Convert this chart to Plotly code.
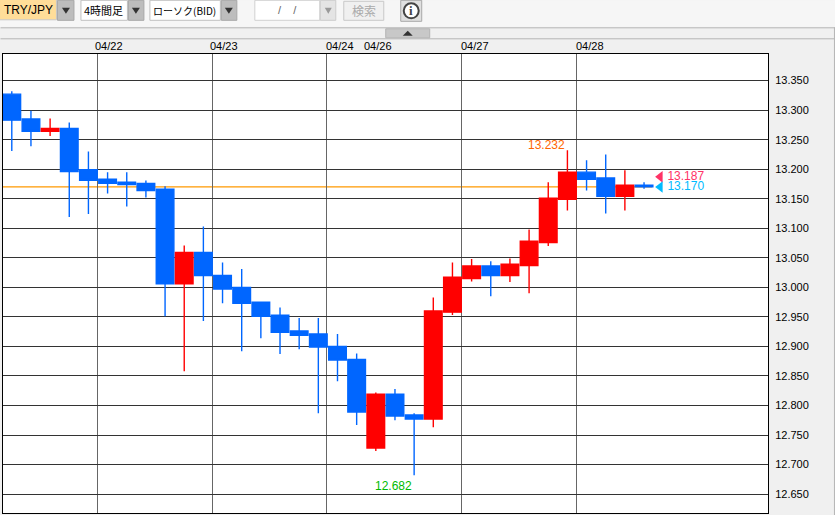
import plotly.graph_objects as go

# ---- data (TRY/JPY 4h, BID) ----
opens = [13.327,13.285,13.264,13.269,13.199,13.183,13.178,13.176,13.166,13.006,13.059,13.020,13.000,12.975,12.953,12.926,12.921,12.900,12.878,12.728,12.819,12.784,12.777,12.958,13.015,13.036,13.020,13.037,13.076,13.149,13.195,13.185,13.154,13.173]
highs = [13.332,13.299,13.286,13.279,13.230,13.195,13.195,13.181,13.171,13.071,13.103,13.042,13.031,12.975,12.966,12.948,12.948,12.921,12.888,12.822,12.828,12.787,12.983,13.042,13.048,13.044,13.049,13.098,13.178,13.232,13.215,13.225,13.198,13.178]
lows = [13.231,13.239,13.256,13.119,13.124,13.159,13.137,13.152,12.951,12.858,12.943,12.973,12.892,12.914,12.887,12.895,12.787,12.841,12.767,12.723,12.775,12.682,12.763,12.953,13.010,12.985,13.009,12.990,13.070,13.130,13.164,13.125,13.130,13.167]
closes = [13.283,13.264,13.269,13.196,13.181,13.176,13.174,13.164,13.006,13.059,13.020,12.997,12.973,12.951,12.924,12.919,12.899,12.877,12.789,12.819,12.782,12.777,12.960,13.017,13.036,13.020,13.039,13.078,13.151,13.195,13.183,13.154,13.173,13.170]
candle_x = list(range(len(opens)))

price_ticks = [12.65,12.70,12.75,12.80,12.85,12.90,12.95,13.00,13.05,13.10,13.15,13.20,13.25,13.30,13.35]
price_labels = ["12.650","12.700","12.750","12.800","12.850","12.900","12.950","13.000","13.050","13.100","13.150","13.200","13.250","13.300","13.350"]
grid_x = [4.45,10.45,16.45,23.45,29.45]
date_labels = ["04/22","04/23","04/24","04/26","04/27","04/28"]
date_x = [4.26,10.26,16.31,18.29,23.35,29.35]

current_bid = 13.170
current_ask = 13.187
max_label = 13.232
min_label = 12.682

# ---- layout geometry ----
W, H = 835, 515
L, R, T, B = 2.5, 768.0, 53.7, 512.7
def px(x): return (x - L) / (R - L)
def py(y): return (B - y) / (B - T)

MONO = "Liberation Sans"
BLUE, RED = "#0066ff", "#ff0000"

fig = go.Figure()
fig.add_trace(go.Candlestick(
    x=candle_x, open=opens, high=highs, low=lows, close=closes,
    increasing=dict(line=dict(color=RED, width=1.4), fillcolor=RED),
    decreasing=dict(line=dict(color=BLUE, width=1.4), fillcolor=BLUE),
    whiskerwidth=0))
fig.add_trace(go.Scatter(x=[33.84, 33.84], y=[current_ask, current_bid], mode="markers+text",
                         marker=dict(symbol="triangle-left", size=10, color=["#ff3366", "#00bbff"]),
                         text=[f"{current_ask:.3f}", f"{current_bid:.3f}"], textposition="middle right",
                         textfont=dict(family=MONO, size=12, color=["#ff3366", "#00bbff"]), hoverinfo="skip"))

shapes, annots = [], []
# current-price line sits under the candles, above the grid
shapes.append(dict(type="line", xref="x", yref="y", x0=-0.46, x1=33.42, y0=current_bid, y1=current_bid,
                   line=dict(color="#ff9900", width=1.3), layer="below"))
# high / low labels
annots.append(dict(xref="x", yref="y", x=29, y=max_label, text=f"{max_label:.3f}", showarrow=False, xanchor="right",
                   yanchor="middle", yshift=5, font=dict(family=MONO, size=12, color="#ff6600")))
annots.append(dict(xref="x", yref="y", x=21, y=min_label, text=f"{min_label:.3f}", showarrow=False, xanchor="right",
                   yanchor="middle", yshift=-11, font=dict(family=MONO, size=12, color="#00bb00")))

def box(x0, y0, x1, y1, fill, line=None, lw=1, layer="above"):
    shapes.append(dict(type="rect", xref="paper", yref="paper", x0=px(x0), x1=px(x1), y0=py(y1), y1=py(y0),
                       fillcolor=fill, line=dict(color=line or fill, width=lw), layer=layer))
def text(x, y, s, size=12, color="#000", anchor="left", family=MONO):
    annots.append(dict(xref="paper", yref="paper", x=px(x), y=py(y), text=s, showarrow=False, xanchor=anchor,
                       yanchor="middle", xshift=0, font=dict(family=family, size=size, color=color)))
def tri(cx, cy, w, h, color, up=False):
    a, b = (cy + h/2, cy - h/2) if up else (cy - h/2, cy + h/2)
    path = f"M {px(cx-w/2)} {py(a)} L {px(cx+w/2)} {py(a)} L {px(cx)} {py(b)} Z"
    shapes.append(dict(type="path", xref="paper", yref="paper", path=path, fillcolor=color, line=dict(width=0), layer="above"))

# toolbar background and bands
box(0, 0, 835, 27, "#f6f6f6")
for yy in (27.5, 38.5):
    shapes.append(dict(type="line", xref="paper", yref="paper", x0=px(0), x1=px(835), y0=py(yy), y1=py(yy), line=dict(color="#b4b4b4", width=1), layer="above"))
shapes.append(dict(type="line", xref="paper", yref="paper", x0=px(834.5), x1=px(834.5), y0=py(27), y1=py(515), line=dict(color="#b4b4b4", width=1), layer="above"))
box(385.5, 28.5, 429.5, 37.5, "#c8c8c8", "#b4b4b4")
tri(407.5, 33, 10, 5, "#333333", up=True)

# selectors
box(-1, -1, 56, 19.5, "#ffdd99", "#c8c8c8")
text(1, 10, "TRY/JPY", 12)
box(57, 0, 73.5, 20, "#bdbdbd", "#a8a8a8"); tri(65.5, 10.5, 8, 6, "#333333")
box(80.5, 0, 127, 20, "#ffffff", "#c0c0c0")
text(81.5, 10, "4時間足", 11, family="Noto Sans CJK JP")
box(128, 0, 143.5, 20, "#bdbdbd", "#a8a8a8"); tri(135.5, 10.5, 8, 6, "#333333")
box(149.5, 0, 220, 20, "#ffffff", "#c0c0c0")
text(151, 10, "ローソク(BID)", 10, family="Noto Sans CJK JP")
box(221, 0, 236.5, 20, "#bdbdbd", "#a8a8a8"); tri(228.5, 10.5, 8, 6, "#333333")
box(254.5, 0, 319.5, 20, "#ffffff", "#d0d0d0")
text(287, 10, "/    /", 11, "#666666", "center")
box(320, 0, 335.5, 20, "#e4e4e4", "#cccccc"); tri(328, 10.5, 7, 6, "#999999")
box(343.5, 1, 383.5, 20, "#f0f0f0", "#c8c8c8")
text(363.5, 10.5, "検索", 12, "#aaaaaa", "center", "Noto Sans CJK JP")
box(400.5, 0, 421.5, 21, "#e0e0e0", "#a8a8a8")
shapes.append(dict(type="circle", xref="paper", yref="paper", x0=px(403.5), x1=px(418.5), y0=py(18), y1=py(3),
                   fillcolor="#ffffff", line=dict(color="#444444", width=2), layer="above"))
text(411, 10.5, "<b>i</b>", 13, "#444444", "center", "Liberation Serif")

# date labels on the top strip, placed through the x axis
for dx, lab in zip(date_x, date_labels):
    annots.append(dict(xref="x", yref="paper", x=dx, y=py(46), text=lab, showarrow=False, xanchor="left",
                       yanchor="middle", font=dict(family=MONO, size=11, color="#000")))

fig.update_layout(
    width=W, height=H, autosize=False, showlegend=False,
    paper_bgcolor="#f0f0f0", plot_bgcolor="#ffffff",
    margin=dict(l=L, r=W - R, t=T, b=H - B, pad=0),
    boxgap=0.08, boxgroupgap=0, shapes=shapes, annotations=annots,
    xaxis=dict(range=[-0.459, 39.47], rangeslider=dict(visible=False), tickmode="array", tickvals=grid_x,
               showticklabels=False, ticks="", showgrid=True, gridcolor="#666666", gridwidth=1, zeroline=False,
               showline=True, linecolor="#000", linewidth=1, mirror=True, fixedrange=True),
    yaxis=dict(range=[12.618, 13.395], side="right", tickmode="array", tickvals=price_ticks, ticktext=price_labels,
               ticks="", ticklabelstandoff=4, tickfont=dict(family=MONO, size=11, color="#000"),
               showgrid=True, gridcolor="#333333", gridwidth=1, zeroline=False,
               showline=True, linecolor="#000", linewidth=1, mirror=True, fixedrange=True),
)
fig.write_html("out.html", config=dict(displayModeBar=False),
               post_script="document.body.style.margin='0';document.body.style.overflow='hidden';")
